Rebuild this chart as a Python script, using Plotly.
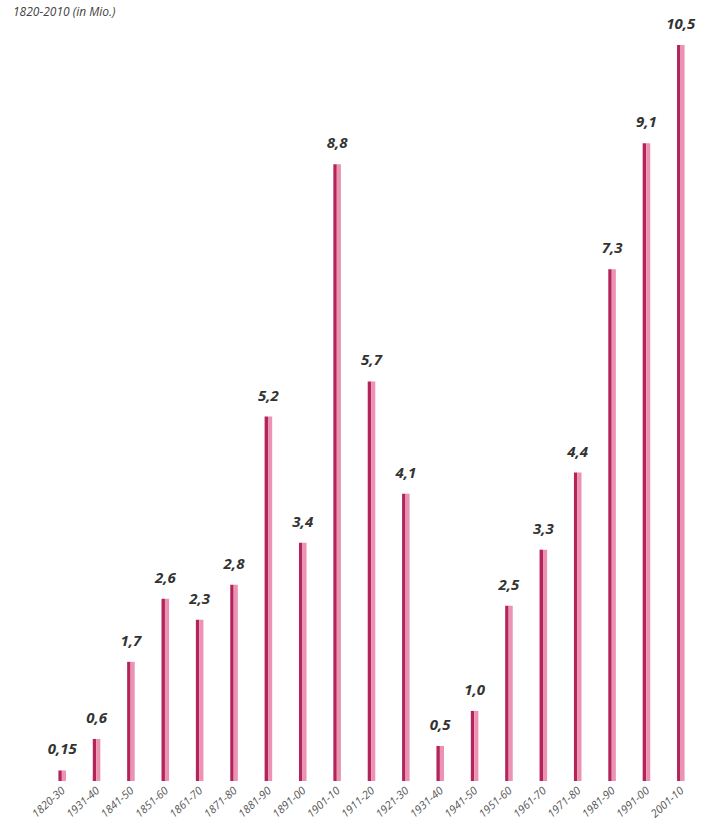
import plotly.graph_objects as go

# Decades and values (in millions)
periods = ["1820-30", "1931-40", "1841-50", "1851-60", "1861-70", "1871-80",
           "1881-90", "1891-00", "1901-10", "1911-20", "1921-30", "1931-40",
           "1941-50", "1951-60", "1961-70", "1971-80", "1981-90", "1991-00",
           "2001-10"]
values = [0.15, 0.6, 1.7, 2.6, 2.3, 2.8, 5.2, 3.4, 8.8, 5.7, 4.1, 0.5,
          1.0, 2.5, 3.3, 4.4, 7.3, 9.1, 10.5]
value_labels = ["0,15", "0,6", "1,7", "2,6", "2,3", "2,8", "5,2", "3,4", "8,8",
                "5,7", "4,1", "0,5", "1,0", "2,5", "3,3", "4,4", "7,3", "9,1",
                "10,5"]

xpos = list(range(len(periods)))

DARK = "#b3245a"
LIGHT = "#ec93b3"

fig = go.Figure()

# dark left half of each bar
fig.add_trace(go.Bar(
    x=xpos, y=values, width=0.1, offset=-0.11,
    marker=dict(color=DARK, line=dict(width=0)),
    hoverinfo="skip", showlegend=False,
))
# light right half
fig.add_trace(go.Bar(
    x=xpos, y=values, width=0.12, offset=-0.01,
    marker=dict(color=LIGHT, line=dict(width=0)),
    showlegend=False,
))
# value labels above each bar (invisible marker keeps a gap to the bar top)
fig.add_trace(go.Scatter(
    x=xpos, y=values, mode="markers+text", text=value_labels,
    textposition="top center", cliponaxis=False,
    marker=dict(size=18, opacity=0),
    textfont=dict(family="Open Sans, sans-serif", size=15, color="#333333",
                  style="italic", weight="bold"),
    hoverinfo="skip", showlegend=False,
))

fig.update_layout(
    width=711, height=836,
    margin=dict(l=45, r=13, t=10, b=55),
    paper_bgcolor="white", plot_bgcolor="white",
    barmode="overlay",
    xaxis=dict(
        range=[-0.5, len(periods) - 0.5],
        tickmode="array", tickvals=xpos, ticktext=periods,
        tickangle=-42, showgrid=False, zeroline=False, showline=False,
        ticks="", ticklen=0,
        tickfont=dict(family="Open Sans, sans-serif", size=11, color="#555555",
                      style="italic"),
    ),
    yaxis=dict(range=[0, 11], visible=False, showgrid=False),
    annotations=[dict(
        text="1820-2010 (in Mio.)", xref="paper", yref="paper",
        x=-0.052, y=1.012, xanchor="left", yanchor="top",
        showarrow=False,
        font=dict(family="Open Sans, sans-serif", size=12, color="#444444",
                  style="italic"),
    )],
)

fig.write_html("out.html")
